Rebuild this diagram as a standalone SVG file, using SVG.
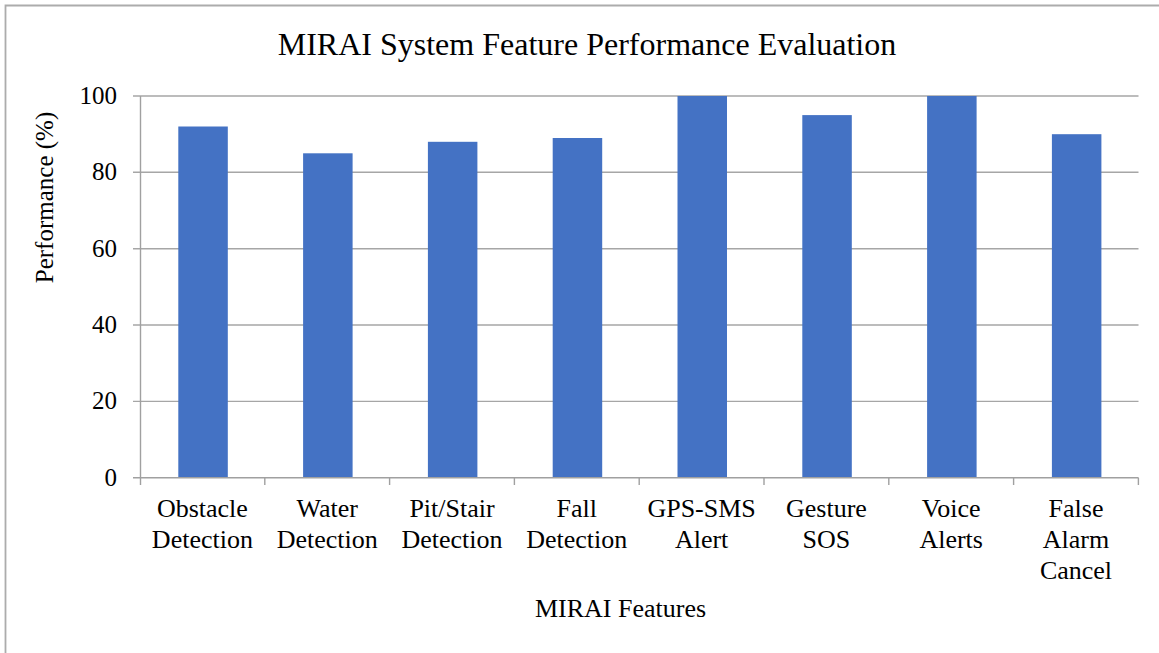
<svg xmlns="http://www.w3.org/2000/svg" width="1159" height="653" viewBox="0 0 1159 653" font-family="'Liberation Serif', 'Times New Roman', 'DejaVu Serif', serif">
<style>
text{font-family:'Liberation Serif','Times New Roman','DejaVu Serif',serif;fill:#000}
.grid{stroke:#a6a6a6;stroke-width:1.4;fill:none}
.ax{stroke:#a0a0a0;stroke-width:1.4;fill:none}
.bar{fill:#4472c4}
.yt{font-size:25px;text-anchor:end}
.cat{font-size:26px;text-anchor:middle}
</style>
<rect width="1159" height="653" fill="#fff"/>
<path d="M5.5,653 V5.5 H1159" fill="none" stroke="#acacac" stroke-width="1.8"/>
<text x="587" y="55" font-size="32" text-anchor="middle">MIRAI System Feature Performance Evaluation</text>
<g id="gridlines">
<path class="grid" d="M133,96 H1138.5 M133,172.3 H1138.5 M133,248.7 H1138.5 M133,325 H1138.5 M133,401.4 H1138.5"/>
</g>
<g id="bars">
<rect class="bar" x="178.3" y="126.5" width="49.5" height="351.2"/>
<rect class="bar" x="303.1" y="153.3" width="49.5" height="324.4"/>
<rect class="bar" x="427.9" y="141.8" width="49.5" height="335.9"/>
<rect class="bar" x="552.7" y="138.0" width="49.5" height="339.7"/>
<rect class="bar" x="677.5" y="96" width="49.5" height="381.7"/>
<rect class="bar" x="802.3" y="115.1" width="49.5" height="362.6"/>
<rect class="bar" x="927.1" y="96" width="49.5" height="381.7"/>
<rect class="bar" x="1051.9" y="134.2" width="49.5" height="343.5"/>
</g>
<g id="axes">
<path class="ax" d="M140.5,96 V485 M133,477.7 H1138.5 M264.8,477.7 V485 M389.6,477.7 V485 M514.4,477.7 V485 M639.2,477.7 V485 M764,477.7 V485 M888.8,477.7 V485 M1013.6,477.7 V485 M1138.4,477.7 V485"/>
</g>
<g id="y-labels">
<text class="yt" x="117" y="104">100</text>
<text class="yt" x="117" y="180.3">80</text>
<text class="yt" x="117" y="256.7">60</text>
<text class="yt" x="117" y="333">40</text>
<text class="yt" x="117" y="409.4">20</text>
<text class="yt" x="117" y="485.7">0</text>
</g>
<text transform="translate(53,197.5) rotate(-90)" font-size="25" text-anchor="middle">Performance (%)</text>
<g id="categories">
<text class="cat" x="202.4" y="517">Obstacle</text>
<text class="cat" x="202.4" y="548">Detection</text>
<text class="cat" x="327.2" y="517">Water</text>
<text class="cat" x="327.2" y="548">Detection</text>
<text class="cat" x="452" y="517">Pit/Stair</text>
<text class="cat" x="452" y="548">Detection</text>
<text class="cat" x="576.8" y="517">Fall</text>
<text class="cat" x="576.8" y="548">Detection</text>
<text class="cat" x="701.6" y="517">GPS-SMS</text>
<text class="cat" x="701.6" y="548">Alert</text>
<text class="cat" x="826.4" y="517">Gesture</text>
<text class="cat" x="826.4" y="548">SOS</text>
<text class="cat" x="951.2" y="517">Voice</text>
<text class="cat" x="951.2" y="548">Alerts</text>
<text class="cat" x="1076" y="517">False</text>
<text class="cat" x="1076" y="548">Alarm</text>
<text class="cat" x="1076" y="579">Cancel</text>
</g>
<text x="620.5" y="617" font-size="26" text-anchor="middle">MIRAI Features</text>
</svg>
